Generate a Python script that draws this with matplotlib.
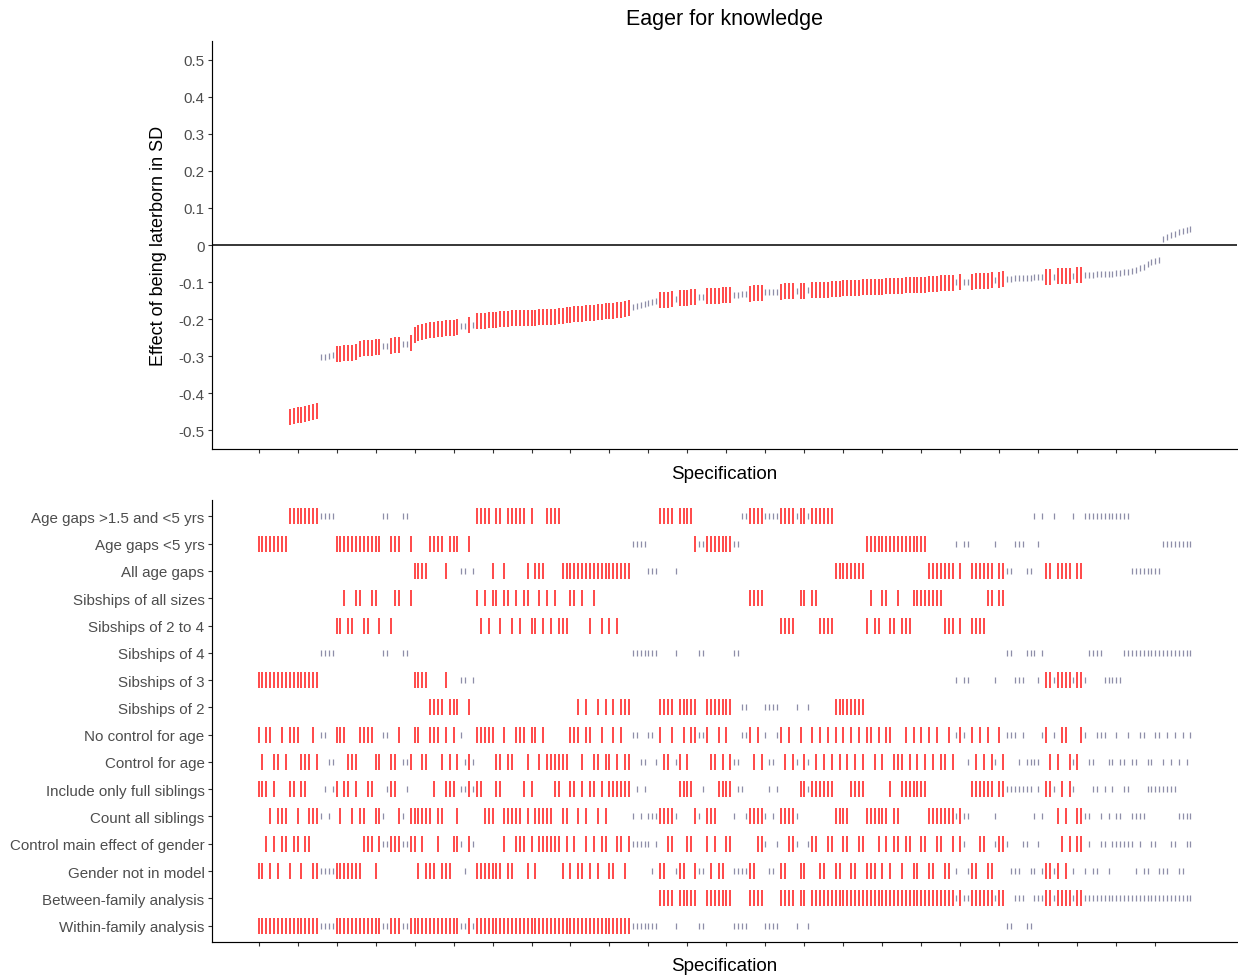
import numpy as np
import matplotlib
matplotlib.use("Agg")
import matplotlib.pyplot as plt

plt.rcParams['font.family'] = ['Liberation Sans', 'DejaVu Sans']

nan = float('nan')

def codes(s):
    return list(s.replace(' ', ''))

# ---- data: one entry per specification, sorted by effect (spec 1..240) ----
# Effect of being laterborn (SD); specs 1-8 lie below the plotted range
effect = [nan, nan, nan, nan, nan, nan, nan, nan,
          -0.463, -0.461, -0.459, -0.457, -0.455, -0.453, -0.451, -0.447,
          -0.303, -0.302, -0.298, -0.296,
          -0.294, -0.293, -0.292, -0.291, -0.290, -0.288,
          -0.280, -0.279, -0.278, -0.277, -0.276, -0.275,
          -0.273, -0.272, -0.272, -0.270, -0.269, -0.267, -0.266, -0.263,
          -0.242, -0.238, -0.235, -0.232, -0.230, -0.228, -0.227, -0.226,
          -0.225, -0.224, -0.223, -0.221, -0.219, -0.218, -0.217, -0.216,
          -0.206, -0.205, -0.204, -0.203, -0.202, -0.201, -0.200, -0.199,
          -0.1985, -0.198, -0.1975, -0.197, -0.1965, -0.196, -0.1958, -0.1955,
          -0.195, -0.1948, -0.1945, -0.194, -0.193, -0.192, -0.191, -0.190,
          -0.188, -0.187, -0.186, -0.185, -0.184, -0.183, -0.182, -0.181,
          -0.180, -0.179, -0.178, -0.177, -0.176, -0.174, -0.172, -0.170,
          -0.167, -0.164, -0.161, -0.159, -0.156, -0.154, -0.152,
          -0.148, -0.147, -0.147, -0.146, -0.145,
          -0.143, -0.142, -0.142, -0.141, -0.140, -0.139, -0.139,
          -0.138, -0.138, -0.137, -0.137, -0.136, -0.135, -0.135,
          -0.134, -0.134, -0.133, -0.133,
          -0.131, -0.130, -0.130, -0.129,
          -0.128, -0.128, -0.127, -0.127,
          -0.126, -0.125, -0.125, -0.124, -0.124,
          -0.123, -0.123, -0.122,
          -0.122, -0.121, -0.121, -0.120, -0.120, -0.119,
          -0.118, -0.1175, -0.117, -0.1165, -0.116, -0.1155, -0.115, -0.1145,
          -0.114, -0.1135, -0.113, -0.1125, -0.112, -0.1115, -0.111, -0.1105,
          -0.110, -0.1095, -0.109, -0.1085, -0.108, -0.1075, -0.107, -0.1065,
          -0.106, -0.105, -0.104, -0.103, -0.1025, -0.102, -0.1015, -0.101,
          -0.1005, -0.100, -0.0995, -0.099, -0.098, -0.097, -0.0965, -0.096,
          -0.095, -0.094, -0.0935, -0.093, -0.092, -0.091,
          -0.090, -0.0895, -0.089, -0.0885, -0.088, -0.0875, -0.087, -0.0865,
          -0.086, -0.0855, -0.085, -0.0845, -0.084, -0.0835, -0.083, -0.0825,
          -0.082, -0.0815,
          -0.081, -0.0805, -0.080, -0.0795, -0.079, -0.078, -0.0775, -0.077,
          -0.076, -0.075, -0.074, -0.073, -0.070, -0.067, -0.063, -0.058,
          -0.052, -0.047, -0.044, -0.041,
          0.016, 0.021, 0.026, 0.030, 0.034, 0.037, 0.040, 0.043]

# 1 = significant (red), 0 = not significant (grey)
significant = codes("1111111111 1111110000 1111111111 1100111001 1111111111 "
                    "1100101111 1111111111 1111111111 1111111111 1111110000 "
                    "0001111011 1110011111 1100001111 0000111101 1011111111 "
                    "1111111111 1111111111 1111111110 1001111110 1100000000 "
                    "0011011110 1100000000 0000000000 0000000000")

# A = gaps >1.5 and <5 yrs, B = gaps <5 yrs, C = all age gaps
age_gap = codes("BBBBBBBBAA AAAAAAAAAA BBBBBBBBBB BBAABBBAAB CCCCBBBBCB "
                "BBCCBCAAAA CAACAAAAAC ACCCAAAACC CCCCCCCCCC CCCCCCBBBB "
                "CCCAAAACAA AABBBBBBBB BBBBAAAAAA AAAAAAAAAA AAAAAAAACC "
                "CCCCCCBBBB BBBBBBBBBB BBCCCCCCCB CBBCCCCCCB CCCCBBBCCA "
                "BACCACCCCA CCAAAAAAAA AAAACCCCCC CCBBBBBBBB")

# a = all sizes, t = 2 to 4, 4 / 3 / 2 = sibships of that size
sibship = codes("3333333333 3333334444 ttattaatta at44taa44a 3333222232 "
                "223323atat aataatataa ttatatattt aa2a2ta2t2 t2t2224444 "
                "4442222422 2224422222 224422aaaa 2222tttt2a a2aatttt22 "
                "222222tatt aattatttaa aaaaaattt3 t33ttttaa3 aa44333444 "
                "3433333333 3334444333 3344444444 4444444444")

# N = no control for age, C = control for age
age_control = codes("NCNNCCNCNN NCCCNCNNCC NNNCCCNNNN CCNNCCNCCC NNCCNNNCNC "
                    "NCNCCCNNNN NCCNCCNNNC NNCNCCCCCC NNNCNNCCNC CNCNCCNNCC "
                    "NNCNCCNCCN CNNNNNCCNC NCCCNNNCNC NCCNNCNCCN CCNCNCNCNC "
                    "NCNCNCNNCN CNNCCCNCNC NCNCNCCNCN NNCNCNCNCC NCNNNCNCCC "
                    "CNNCNCNNCC CNNCCNNNCC NCCNCCNNCC NNCNCNCNCN")

# F = include only full siblings, A = count all siblings
siblings = codes("FFFAFAAAFF AFFAAAAFAF FAFFAFAAFF AAAFFFAAFA AAAAAFAAFF "
                 "FAFFFFFFAA AFFAAAAAFA FAAAAAFFAA FFAFAFFAFA FFFFFFAFAF "
                 "AAAAAAAAFF FFAAFAAAFF FFAFFAAAAA AFAFAAAAAF FFFFFFFFAA "
                 "AAFFFFAAAA AAFAAFFFFF FFAAAAAAAA AAAFFFFFFA FFFFFFFFFA "
                 "FAFFFAFAFF AAAAFFAFAF AAFFAAAAFF FFFFFFAAAA")

# C = control main effect of gender, N = gender not in model
gender = codes("NNCNCNCCNC CNCCNNNNNN NNNNNNNCCC NCCCCCCCCC CNCNNNCNNN "
               "CCCNCCNNNN NNNCNNCCCN CNCCCCCCNC NCNNCNCNCC NNCCNCCCCC "
               "CNCNNCCNNN CCNNNCNCNN CCNNNNNNCC CNNCNNCCCN NCCCNNCCNN "
               "CCNNCCNNNC NCNCCNCCNN CCNNCCNNCN CCNNNCCNNC CCCNNNCCNN "
               "CNNNNNCNCN CCNCNNCCNC CCCCCNCNNC CNNNCCNNCC")

# B = between-family, W = within-family analysis
analysis = codes("WWWWWWWWWW WWWWWWWWWW WWWWWWWWWW WWWWWWWWWW WWWWWWWWWW "
                 "WWWWWWWWWW WWWWWWWWWW WWWWWWWWWW WWWWWWWWWW WWWWWWWWWW "
                 "WWWBBBBWBB BBBWWBBBBB BBWWWWBBBB WWWWBBBBWB BWBBBBBBBB "
                 "BBBBBBBBBB BBBBBBBBBB BBBBBBBBBB BBBBBBBBBB BBWWBBBWWB "
                 "BBBBBBBBBB BBBBBBBBBB BBBBBBBBBB BBBBBBBBBB")

row_labels = ["Age gaps >1.5 and <5 yrs", "Age gaps <5 yrs", "All age gaps",
              "Sibships of all sizes", "Sibships of 2 to 4", "Sibships of 4",
              "Sibships of 3", "Sibships of 2", "No control for age",
              "Control for age", "Include only full siblings",
              "Count all siblings", "Control main effect of gender",
              "Gender not in model", "Between-family analysis",
              "Within-family analysis"]

factor_rows = [
    (age_gap, {"A": 1, "B": 2, "C": 3}),
    (sibship, {"a": 4, "t": 5, "4": 6, "3": 7, "2": 8}),
    (age_control, {"N": 9, "C": 10}),
    (siblings, {"F": 11, "A": 12}),
    (gender, {"C": 13, "N": 14}),
    (analysis, {"B": 15, "W": 16}),
]

y_ticks = [-0.5, -0.4, -0.3, -0.2, -0.1, 0, 0.1, 0.2, 0.3, 0.4, 0.5]
y_tick_labels = ["-0.5", "-0.4", "-0.3", "-0.2", "-0.1", "0",
                 "0.1", "0.2", "0.3", "0.4", "0.5"]

# ---- drawing ----
n = len(effect)
spec = np.arange(1, n + 1)
sig = np.array([c == "1" for c in significant])
eff = np.array(effect, dtype=float)

RED = "#ff2020"
GREY = "#8e8ea8"
red_style = dict(linestyle="none", marker="|", markersize=11.5,
                 markeredgewidth=1.15, color=RED)
grey_style = dict(linestyle="none", marker="|", markersize=4.3,
                  markeredgewidth=0.9, color=GREY)

W, H = 1238, 978
fig = plt.figure(figsize=(W / 100, H / 100), dpi=100)
ax1 = fig.add_axes([212 / W, 1 - 450 / H, 1025 / W, 408 / H])
ax2 = fig.add_axes([212 / W, 1 - 943 / H, 1025 / W, 442 / H])

xlim = (1 - 0.05 * (n - 1), n + 0.05 * (n - 1))
xticks = np.arange(1, n + 1, 10)

ax1.axhline(0, color="black", lw=1.1, zorder=1)
ax1.plot(spec[sig], eff[sig], **red_style, zorder=3)
ax1.plot(spec[~sig], eff[~sig], **grey_style, zorder=3)
ax1.set_ylim(-0.55, 0.55)
ax1.set_yticks(y_ticks)
ax1.set_yticklabels(y_tick_labels)
ax1.set_ylabel("Effect of being laterborn in SD", fontsize=13)
ax1.yaxis.set_label_coords(-0.044, 0.5)

for codes_list, mapping in factor_rows:
    rows = np.array([mapping[c] for c in codes_list])
    ax2.plot(spec[sig], rows[sig], **red_style, zorder=3)
    ax2.plot(spec[~sig], rows[~sig], **grey_style, zorder=3)
ax2.set_ylim(16.6, 0.4)
ax2.set_yticks(range(1, 17))
ax2.set_yticklabels(row_labels)

for ax in (ax1, ax2):
    ax.set_xlim(*xlim)
    ax.set_xticks(xticks)
    ax.set_xticklabels([])
    ax.set_xlabel("Specification", fontsize=13.5)
    ax.xaxis.set_label_coords(0.5, -0.038 if ax is ax1 else -0.034)
    for s in ("top", "right"):
        ax.spines[s].set_visible(False)
    for s in ("left", "bottom"):
        ax.spines[s].set_linewidth(0.85)
        ax.spines[s].set_color("black")
    ax.tick_params(axis="both", length=3.2, width=0.8, color="#333333",
                   labelsize=10.9, labelcolor="#4d4d4d", pad=2.2)

fig.text(724.5 / W, 1 - 19 / H, "Eager for knowledge", ha="center",
         va="center", fontsize=15.5)

fig.savefig("out.png", dpi=100)
